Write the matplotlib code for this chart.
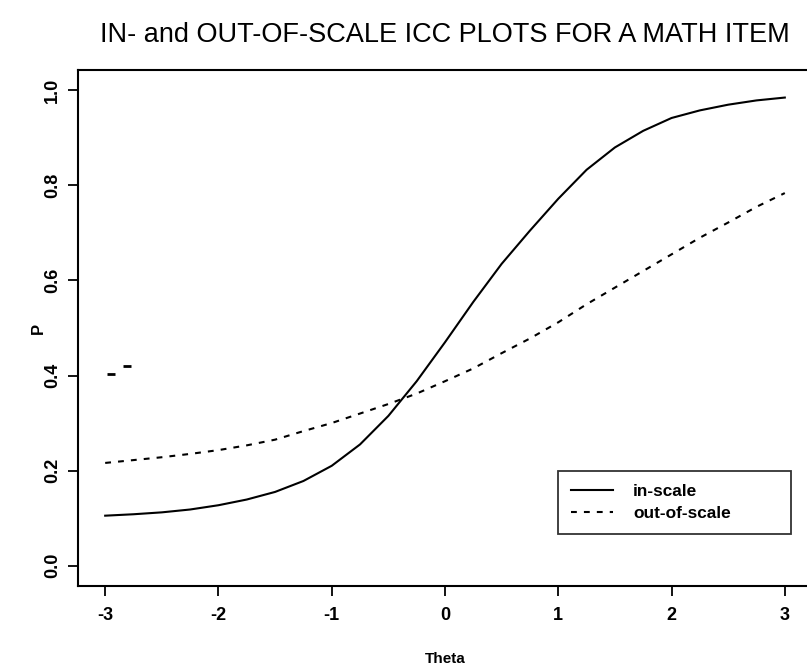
import matplotlib.pyplot as plt

plt.rcParams['font.family'] = ['Liberation Sans', 'DejaVu Sans']

theta = [-3.0, -2.75, -2.5, -2.25, -2.0, -1.75, -1.5, -1.25, -1.0, -0.75, -0.5, -0.25,
         0.0, 0.25, 0.5, 0.75, 1.0, 1.25, 1.5, 1.75, 2.0, 2.25, 2.5, 2.75, 3.0]
p_in = [0.105, 0.108, 0.112, 0.118, 0.127, 0.139, 0.155, 0.178, 0.210, 0.255, 0.315, 0.388,
        0.470, 0.555, 0.635, 0.705, 0.772, 0.833, 0.880, 0.915, 0.942, 0.958, 0.970, 0.979, 0.985]
p_out = [0.216, 0.222, 0.228, 0.235, 0.243, 0.253, 0.265, 0.283, 0.300, 0.320, 0.340, 0.362,
         0.388, 0.415, 0.447, 0.478, 0.512, 0.550, 0.585, 0.620, 0.655, 0.690, 0.722, 0.755, 0.784]

# stray dash marks left in the scanned figure
stray_theta = [-2.95, -2.81]
stray_p = [0.403, 0.419]

x_ticks = [-3, -2, -1, 0, 1, 2, 3]
y_ticks = [0.0, 0.2, 0.4, 0.6, 0.8, 1.0]

fig = plt.figure(figsize=(8.07, 6.64), dpi=100)
ax = fig.add_axes([78 / 807, 78 / 664, 734 / 807, 516 / 664])

ax.plot(theta, p_in, color='black', lw=1.5, label='in-scale')
ax.plot(theta, p_out, color='black', lw=1.5, ls=(0, (2.8, 3.4)), label='out-of-scale')
ax.plot(stray_theta, stray_p, ls='none', marker='_', ms=6, mew=2, color='black')

ax.set_xlim(-3.24, 3.24)
ax.set_ylim(-0.043, 1.043)
ax.set_xticks(x_ticks)
ax.set_xticklabels([str(v) for v in x_ticks], fontweight='bold', fontsize=13)
ax.set_yticks(y_ticks)
ax.set_yticklabels([f"{v:.1f}" for v in y_ticks], fontweight='bold', fontsize=13,
                   rotation=90, va='center')
ax.tick_params(direction='out', length=7, width=1.3)
ax.tick_params(axis='x', pad=8)
ax.tick_params(axis='y', pad=5)
for s in ax.spines.values():
    s.set_linewidth(1.5)

ax.set_xlabel("Theta", fontweight='bold', fontsize=11, labelpad=20)
ax.set_ylabel("P", fontweight='bold', fontsize=12, labelpad=-1)
ax.set_title("IN- and OUT-OF-SCALE ICC PLOTS FOR A MATH ITEM", fontsize=19.5, pad=20)

leg = ax.legend(loc='lower left', bbox_to_anchor=(0.654, 0.101, 0.317, 0.118), mode='expand',
                borderaxespad=0, frameon=True, fancybox=False, edgecolor='black',
                handlelength=2.45, handletextpad=1.15, borderpad=0.75, labelspacing=0.4,
                prop={'weight': 'bold', 'size': 12.4})
leg.get_frame().set_linewidth(1.3)

fig.savefig("out.png", dpi=100)
